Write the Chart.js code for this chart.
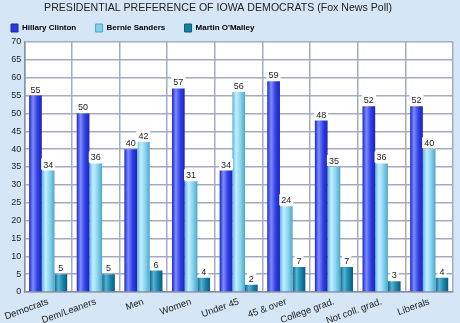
<!DOCTYPE html>
<html>
<head>
<meta charset="utf-8">
<script src="https://cdn.jsdelivr.net/npm/chart.js@4/dist/chart.umd.min.js"></script>
<style>
  html, body { margin: 0; padding: 0; background: #d5e6f6; }
  #wrap { width: 460px; height: 323px; position: relative; }
</style>
</head>
<body>
<div id="wrap"><canvas id="pollChart"></canvas></div>
<script>
const groups = ["Democrats", "Dem/Leaners", "Men", "Women", "Under 45", "45 & over", "College grad.", "Not coll. grad.", "Liberals"];
const clinton = [55, 50, 40, 57, 34, 59, 48, 52, 52];
const sanders = [34, 36, 42, 31, 56, 24, 35, 36, 40];
const omalley = [5, 5, 6, 4, 2, 7, 7, 3, 4];
const candidates = ["Hillary Clinton", "Bernie Sanders", "Martin O'Malley"];
const yTicks = [0, 5, 10, 15, 20, 25, 30, 35, 40, 45, 50, 55, 60, 65, 70];

const CAT_PCT = 0.8;
const BAR_PCT = 1.0;

// shading stops per candidate: dark edge, highlight, body, dark edge
const shades = [
  ["#1b27c9", "#7d8cff", "#3040e6", "#1a24b8"],
  ["#5fb6d8", "#c4efff", "#86d3ee", "#4fa6c8"],
  ["#0d6585", "#55b3d3", "#1b86aa", "#0b5a78"]
];
const solid = ["#2a38de", "#82cfec", "#17809f"];

// horizontal cylinder gradient, positioned from the index scale
function barFill(context) {
  const chart = context.chart;
  const x = chart.scales.x;
  if (!x || !chart.chartArea || context.dataIndex === undefined) return solid[context.datasetIndex];
  const catW = (chart.chartArea.right - chart.chartArea.left) / groups.length;
  const groupW = catW * CAT_PCT;
  const barW = groupW / 3 * BAR_PCT;
  const center = x.getPixelForValue(context.dataIndex);
  const left = center - groupW / 2 + context.datasetIndex * barW;
  const s = shades[context.datasetIndex];
  const g = chart.ctx.createLinearGradient(left, 0, left + barW, 0);
  g.addColorStop(0, s[0]);
  g.addColorStop(0.3, s[1]);
  g.addColorStop(0.65, s[2]);
  g.addColorStop(1, s[3]);
  return g;
}

const plotBg = {
  id: "plotBg",
  beforeDraw(chart) {
    const { ctx, chartArea: a } = chart;
    ctx.save();
    ctx.fillStyle = "#ffffff";
    ctx.fillRect(a.left, a.top, a.right - a.left, a.bottom - a.top);
    ctx.restore();
  }
};

const heading = {
  id: "heading",
  afterDraw(chart) {
    const ctx = chart.ctx;
    ctx.save();
    ctx.font = "10.6px Arial, 'Liberation Sans', sans-serif";
    ctx.fillStyle = "#222";
    ctx.textAlign = "center";
    ctx.textBaseline = "middle";
    ctx.fillText("PRESIDENTIAL PREFERENCE OF IOWA DEMOCRATS (Fox News Poll)", 218, 8);
    ctx.restore();
  }
};

// value tags over each bar
const valueTags = {
  id: "valueTags",
  afterDatasetsDraw(chart) {
    const ctx = chart.ctx;
    ctx.save();
    ctx.font = "9px Arial, 'Liberation Sans', sans-serif";
    ctx.textAlign = "center";
    ctx.textBaseline = "bottom";
    chart.data.datasets.forEach((ds, di) => {
      chart.getDatasetMeta(di).data.forEach((bar, i) => {
        const txt = String(ds.data[i]);
        const w = ctx.measureText(txt).width + 4;
        ctx.fillStyle = "#ffffff";
        ctx.fillRect(bar.x - w / 2, bar.y - 12, w, 11);
        ctx.fillStyle = "#222";
        ctx.fillText(txt, bar.x, bar.y - 1);
      });
    });
    ctx.restore();
  }
};

const series = [clinton, sanders, omalley];

new Chart(document.getElementById("pollChart"), {
  type: "bar",
  data: {
    labels: groups,
    datasets: series.map((vals, k) => ({
      label: candidates[k],
      data: vals,
      backgroundColor: barFill,
      borderWidth: 0,
      categoryPercentage: CAT_PCT,
      barPercentage: BAR_PCT
    }))
  },
  options: {
    responsive: true,
    maintainAspectRatio: false,
    animation: false,
    layout: { padding: { top: 18, left: 5, right: 7, bottom: 0 } },
    plugins: {
      title: { display: false },
      tooltip: { enabled: false },
      legend: {
        position: "top",
        align: "start",
        labels: {
          boxWidth: 7,
          boxHeight: 8,
          padding: 6,
          color: "#222",
          font: { size: 8, family: "Arial, 'Liberation Sans', sans-serif", weight: "bold" },
          generateLabels(chart) {
            return chart.data.datasets.map((ds, i) => ({
              text: ds.label + "      ",
              fillStyle: solid[i],
              strokeStyle: shades[i][3],
              lineWidth: 1,
              datasetIndex: i,
              hidden: false
            }));
          }
        }
      }
    },
    scales: {
      x: {
        grid: { color: "#a3abc2", lineWidth: 1.5, drawTicks: false, offset: true },
        border: { color: "#8a90a0", width: 1.5 },
        ticks: {
          color: "#222",
          font: { size: 9.5, family: "Arial, 'Liberation Sans', sans-serif" },
          minRotation: 20,
          maxRotation: 20,
          padding: 4,
          autoSkip: false
        },
        afterFit(scale) { scale.height = 31; }
      },
      y: {
        min: 0,
        max: 70,
        afterBuildTicks(scale) { scale.ticks = yTicks.map(v => ({ value: v })); },
        grid: { color: "#a3abc2", lineWidth: 1.5, drawTicks: false },
        border: { color: "#8a90a0", width: 1.5 },
        ticks: {
          color: "#222",
          font: { size: 9, family: "Arial, 'Liberation Sans', sans-serif" },
          padding: 3
        },
        afterFit(scale) { scale.width = 13; }
      }
    }
  },
  plugins: [plotBg, heading, valueTags]
});
</script>
</body>
</html>
